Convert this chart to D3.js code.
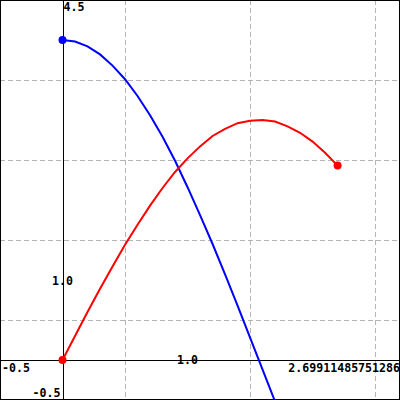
<!DOCTYPE html>
<html>
<head>
<meta charset="utf-8">
<script src="https://cdn.jsdelivr.net/npm/d3@7"></script>
<style>
  body { margin: 0; background: #fff; }
  text { font-family: "DejaVu Sans Mono", monospace; font-weight: bold; font-size: 11.6px; fill: #000; }
</style>
</head>
<body>
<div id="chart"></div>
<script>
// values
var xs = [0, 0.1, 0.2, 0.3, 0.4, 0.5, 0.6, 0.7, 0.8, 0.9, 1.0, 1.1, 1.2, 1.3, 1.4, 1.5, 1.6, 1.7, 1.8, 1.9, 2.0, 2.1, 2.2];
var blueY = [4.00, 3.98, 3.92, 3.82, 3.68, 3.51, 3.30, 3.06, 2.79, 2.49, 2.16, 1.81, 1.45, 1.07, 0.68, 0.28, -0.12, -0.52, -0.91];
var redY = [0, 0.30, 0.60, 0.89, 1.17, 1.44, 1.69, 1.93, 2.15, 2.35, 2.52, 2.67, 2.80, 2.89, 2.96, 2.99, 3.00, 2.98, 2.92, 2.84, 2.73, 2.59, 2.43];
var xDomain = [-0.5, 2.69911485751286];
var yDomain = [-0.5, 4.5];
var xGrid = [0.5, 1.5, 2.5];
var yGrid = [0.5, 1.5, 2.5, 3.5];
var xLabels = ['-0.5', '1.0', '2.69911485751286'];
var yLabels = ['-0.5', '1.0', '4.5'];

var W = 400, H = 400;

var svg = d3.select('#chart').append('svg').attr('width', W).attr('height', H);

var x = d3.scaleLinear().domain(xDomain).range([0, W]);
var y = d3.scaleLinear().domain(yDomain).range([H, 0]);

svg.append('clipPath').attr('id', 'clip')
    .append('rect').attr('width', W).attr('height', H);

// grid
svg.selectAll('line.vgrid').data(xGrid).enter().append('line')
    .attr('class', 'vgrid')
    .attr('x1', function(d) { return Math.round(x(d)) + 0.5; })
    .attr('x2', function(d) { return Math.round(x(d)) + 0.5; })
    .attr('y1', 0).attr('y2', H)
    .attr('stroke', '#b4b4b4').attr('stroke-dasharray', '5,3');

svg.selectAll('line.hgrid').data(yGrid).enter().append('line')
    .attr('class', 'hgrid')
    .attr('y1', function(d) { return Math.round(y(d)) + 0.5; })
    .attr('y2', function(d) { return Math.round(y(d)) + 0.5; })
    .attr('x1', 0).attr('x2', W)
    .attr('stroke', '#b4b4b4').attr('stroke-dasharray', '5,3');

// axes through the origin
svg.append('line')
    .attr('x1', 0).attr('x2', W)
    .attr('y1', Math.round(y(0)) + 0.5).attr('y2', Math.round(y(0)) + 0.5)
    .attr('stroke', '#000');
svg.append('line')
    .attr('y1', 0).attr('y2', H)
    .attr('x1', Math.round(x(0)) + 0.5).attr('x2', Math.round(x(0)) + 0.5)
    .attr('stroke', '#000');

// labels
svg.append('text').attr('x', 2).attr('y', y(0) + 12).text(xLabels[0]);
svg.append('text').attr('x', x(1)).attr('y', y(0) + 4).attr('text-anchor', 'middle').text(xLabels[1]);
svg.append('text').attr('x', W).attr('y', y(0) + 12).attr('text-anchor', 'end').text(xLabels[2]);
svg.append('text').attr('x', x(0) - 2).attr('y', H - 3).attr('text-anchor', 'end').text(yLabels[0]);
svg.append('text').attr('x', x(0)).attr('y', y(1) + 5).attr('text-anchor', 'middle').text(yLabels[1]);
svg.append('text').attr('x', x(0) + 1).attr('y', 11).text(yLabels[2]);

// curves
var line = d3.line()
    .x(function(d) { return x(d[0]); })
    .y(function(d) { return y(d[1]); });

var bluePts = blueY.map(function(v, i) { return [xs[i], v]; });
var redPts = redY.map(function(v, i) { return [xs[i], v]; });

var g = svg.append('g').attr('clip-path', 'url(#clip)');

g.append('path').datum(bluePts)
    .attr('d', line).attr('fill', 'none')
    .attr('stroke', '#0000ff').attr('stroke-width', 2);
g.append('path').datum(redPts)
    .attr('d', line).attr('fill', 'none')
    .attr('stroke', '#ff0000').attr('stroke-width', 2);

var dots = [
    { p: bluePts[0], c: '#0000ff' },
    { p: redPts[0], c: '#ff0000' },
    { p: redPts[redPts.length - 1], c: '#ff0000' }
];
g.selectAll('circle').data(dots).enter().append('circle')
    .attr('cx', function(d) { return x(d.p[0]); })
    .attr('cy', function(d) { return y(d.p[1]); })
    .attr('r', 4)
    .attr('fill', function(d) { return d.c; });

// border
svg.append('rect')
    .attr('x', 0.5).attr('y', 0.5).attr('width', W - 1).attr('height', H - 1)
    .attr('fill', 'none').attr('stroke', '#000');
</script>
</body>
</html>
